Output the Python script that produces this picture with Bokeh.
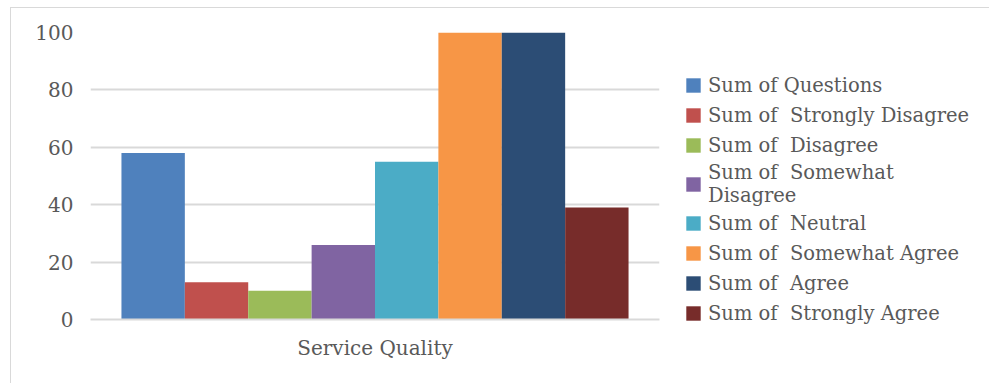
from bokeh.plotting import figure
from bokeh.models import FactorRange, Range1d, Legend, LegendItem
from bokeh.transform import dodge
from bokeh.embed import file_html
from bokeh.resources import INLINE

category = ["Service Quality"]
series = ["Sum of Questions", "Sum of  Strongly Disagree", "Sum of  Disagree",
          "Sum of  Somewhat\nDisagree", "Sum of  Neutral", "Sum of  Somewhat Agree",
          "Sum of  Agree", "Sum of  Strongly Agree"]
values = [58, 13, 10, 26, 55, 100, 100, 39]
colors = ["#4F81BD", "#C0504D", "#9BBB59", "#8064A2", "#4BACC6", "#F79646", "#2C4D75", "#772C2A"]
y_ticks = [0, 20, 40, 60, 80, 100]

FONT = "DejaVu Serif"
TXT = "#595959"

p = figure(x_range=FactorRange(*category), y_range=Range1d(0, 100),
           frame_width=569, frame_height=287, output_backend="svg", toolbar_location=None,
           min_border_left=79, min_border_right=0, min_border_top=24, min_border_bottom=64)
p.margin = (7, 0, 0, 10)
p.styles = {"border-top": "1px solid #d9d9d9", "border-left": "1px solid #d9d9d9"}
p.outline_line_color = None
p.x_range.range_padding = 0

bw = 0.1114
n = len(series)
items = []
for i, (s, v, c) in enumerate(zip(series, values, colors)):
    off = (i - (n - 1) / 2) * bw
    r = p.vbar(x=dodge("x", off, range=p.x_range), top="top", width=bw,
               source=dict(x=category, top=[v]), fill_color=c, line_color=None)
    items.append(LegendItem(label=s, renderers=[r]))

legend = Legend(items=items, location=(25, -8), border_line_color=None,
                background_fill_alpha=0, padding=0, margin=0, spacing=2,
                glyph_width=18, glyph_height=18, label_standoff=6, label_height=28,
                label_text_font=FONT, label_text_font_size="19.5px", label_text_color=TXT)
p.add_layout(legend, "right")

p.ygrid.grid_line_color = "#D9D9D9"
p.ygrid.grid_line_width = 2
p.xgrid.grid_line_color = None
p.yaxis.ticker = y_ticks
p.yaxis.axis_line_color = None
p.yaxis.major_tick_line_color = None
p.yaxis.minor_tick_line_color = None
p.yaxis.major_label_text_font = FONT
p.yaxis.major_label_text_font_size = "20px"
p.yaxis.major_label_text_color = TXT
p.yaxis.major_label_standoff = 11
p.xaxis.axis_line_color = "#D9D9D9"
p.xaxis.axis_line_width = 2
p.xaxis.major_tick_line_color = None
p.xaxis.minor_tick_line_color = None
p.xaxis.major_label_text_font = FONT
p.xaxis.major_label_text_font_size = "20px"
p.xaxis.major_label_text_color = TXT
p.xaxis.major_label_standoff = 10

open("out.html", "w").write(file_html(p, INLINE))
